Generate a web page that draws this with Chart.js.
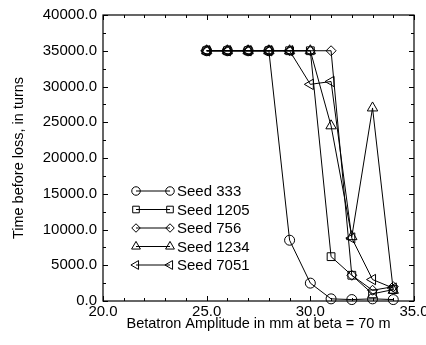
<!DOCTYPE html>
<html>
<head>
<meta charset="utf-8">
<script src="https://cdn.jsdelivr.net/npm/chart.js@4/dist/chart.umd.min.js"></script>
<style>
  html, body { margin: 0; padding: 0; background: #fff; overflow: hidden; }
  #wrap { width: 426px; height: 345px; overflow: hidden; }
</style>
</head>
<body>
<div id="wrap"><canvas id="chart" width="446" height="345"></canvas></div>
<script>
// amplitudes (mm at beta = 70 m)
const amplitude = [25, 26, 27, 28, 29, 30, 31, 32, 33, 34];

// time before loss, in turns
const seed333  = [35000, 35000, 35000, 35000, 8500, 2500, 300, 200, 300, 200];
const seed1205 = [35000, 35000, 35000, 35000, 35000, 35000, 6200, 3600, 1000, 1600];
const seed756  = [35000, 35000, 35000, 35000, 35000, 35000, 35000, 3600, 1500, 2000];
const seed1234 = [35000, 35000, 35000, 35000, 35000, 35000, 24500, 9000, 27000, 1500];
const seed7051 = [35000, 35000, 35000, 35000, 35000, 30300, 30700, 8800, 3000, 1800];

const seedNames = ["Seed 333", "Seed 1205", "Seed 756", "Seed 1234", "Seed 7051"];

const xTicks = [20, 25, 30, 35];
const yTicks = [0, 5000, 10000, 15000, 20000, 25000, 30000, 35000, 40000];

const FONT = "'Liberation Sans', Arial, Helvetica, sans-serif";

function pts(ys) {
  return amplitude.map((x, i) => ({ x: x, y: ys[i] }));
}

function series(label, ys, style, radius, rotation) {
  return {
    label: label,
    data: pts(ys),
    borderColor: "#000",
    borderWidth: 1,
    pointStyle: style,
    pointRadius: radius,
    pointRotation: rotation || 0,
    pointBorderColor: "#000",
    pointBorderWidth: 1,
    pointBackgroundColor: "rgba(0,0,0,0)",
    fill: false,
    tension: 0,
    clip: false,
  };
}

const datasets = [
  series(seedNames[0], seed333, "circle", 5),
  series(seedNames[1], seed1205, "rect", 5.5),
  series(seedNames[2], seed756, "rectRot", 5),
  series(seedNames[3], seed1234, "triangle", 6),
  series(seedNames[4], seed7051, "triangle", 6, -90),
];

function drawMarker(ctx, ds, x, y, scale) {
  const opts = {
    pointStyle: ds.pointStyle,
    rotation: ds.pointRotation,
    radius: ds.pointRadius * scale,
    borderWidth: 1,
  };
  ctx.save();
  ctx.strokeStyle = "#000";
  ctx.fillStyle = "rgba(0,0,0,0)";
  Chart.helpers.drawPoint(ctx, opts, x, y);
  ctx.restore();
}

// box, inward tick marks and the in-plot legend
const frameAndLegend = {
  id: "frameAndLegend",
  afterDraw(chart) {
    const ctx = chart.ctx;
    const a = chart.chartArea;
    const xs = chart.scales.x;
    const ys = chart.scales.y;
    ctx.save();
    ctx.strokeStyle = "#000";
    ctx.lineWidth = 1.2;
    ctx.strokeRect(a.left, a.top, a.right - a.left, a.bottom - a.top);

    ctx.lineWidth = 1;
    ctx.beginPath();
    for (let v = 20; v <= 35; v += 1) {
      const px = Math.round(xs.getPixelForValue(v)) + 0.5;
      const len = v % 5 === 0 ? 5 : 3;
      ctx.moveTo(px, a.bottom); ctx.lineTo(px, a.bottom - len);
      ctx.moveTo(px, a.top); ctx.lineTo(px, a.top + len);
    }
    for (let v = 0; v <= 40000; v += 2500) {
      const py = Math.round(ys.getPixelForValue(v)) + 0.5;
      const len = v % 5000 === 0 ? 5 : 3;
      ctx.moveTo(a.left, py); ctx.lineTo(a.left + len, py);
      ctx.moveTo(a.right, py); ctx.lineTo(a.right - len, py);
    }
    ctx.stroke();

    // legend
    chart.data.datasets.forEach((ds, i) => {
      const y = 191 + i * 18.5;
      ctx.strokeStyle = "#000";
      ctx.lineWidth = 1;
      ctx.beginPath();
      ctx.moveTo(136, y); ctx.lineTo(170, y);
      ctx.stroke();
      drawMarker(ctx, ds, 136, y, 0.85);
      drawMarker(ctx, ds, 170, y, 0.85);
      ctx.font = "15px " + FONT;
      ctx.textBaseline = "middle";
      ctx.textAlign = "left";
      ctx.fillStyle = "#000";
      ctx.fillText(ds.label, 177, y + 1);
    });
    ctx.restore();
  },
};

new Chart(document.getElementById("chart"), {
  type: "line",
  data: { datasets: datasets },
  options: {
    responsive: false,
    animation: false,
    devicePixelRatio: 1,
    layout: { padding: { top: 11, right: 32, bottom: 0, left: 0 } },
    plugins: {
      legend: { display: false },
      tooltip: { enabled: false },
    },
    scales: {
      x: {
        type: "linear",
        min: 20,
        max: 35,
        afterBuildTicks: (s) => { s.ticks = xTicks.map((v) => ({ value: v })); },
        afterFit: (s) => { s.height = 44; },
        grid: { display: false, drawTicks: false },
        border: { display: false },
        ticks: {
          color: "#000",
          padding: 2,
          maxRotation: 0,
          autoSkip: false,
          font: { family: FONT, size: 15 },
          callback: (v) => Number(v).toFixed(1),
        },
        title: {
          display: true,
          text: "Betatron Amplitude in mm at beta = 70 m",
          color: "#000",
          font: { family: FONT, size: 14.5 },
          padding: { top: 12, bottom: 12 },
        },
      },
      y: {
        type: "linear",
        min: 0,
        max: 40000,
        afterBuildTicks: (s) => { s.ticks = yTicks.map((v) => ({ value: v })); },
        afterFit: (s) => { s.width = 103; },
        grid: { display: false, drawTicks: false },
        border: { display: false },
        ticks: {
          color: "#000",
          padding: 6,
          autoSkip: false,
          font: { family: FONT, size: 15 },
          callback: (v) => Number(v).toFixed(1),
        },
        title: {
          display: true,
          text: "Time before loss, in turns",
          color: "#000",
          font: { family: FONT, size: 14.5 },
          padding: { top: 10, bottom: 10 },
        },
      },
    },
  },
  plugins: [frameAndLegend],
});
</script>
</body>
</html>
